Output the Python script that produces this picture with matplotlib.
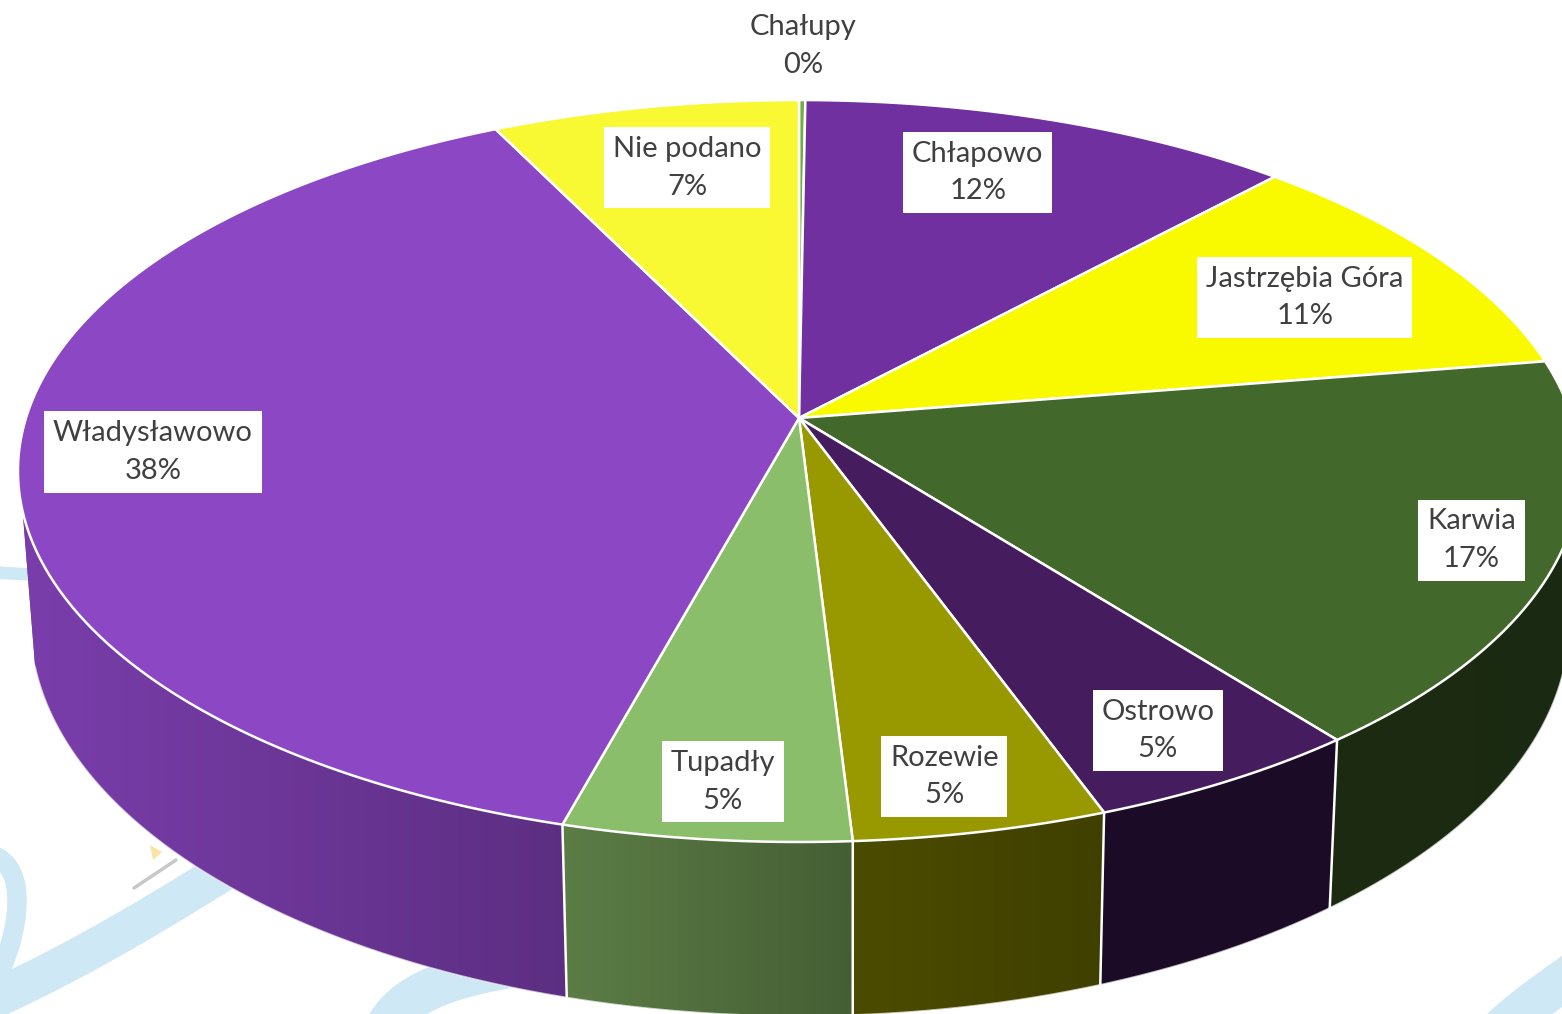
import numpy as np
import matplotlib
matplotlib.use("Agg")
import matplotlib.pyplot as plt
from matplotlib.patches import Polygon, PathPatch
from matplotlib.path import Path
from matplotlib.colors import to_rgb

# slices, clockwise from 12 o'clock (shares in %)
labels = ["Chałupy", "Chłapowo", "Jastrzębia Góra", "Karwia", "Ostrowo",
          "Rozewie", "Tupadły", "Władysławowo", "Nie podano"]
shares = [0.15, 11.75, 10.55, 16.95, 5.05, 4.6, 5.2, 38.45, 7.3]
colors = ["#6FAD47", "#7030A0", "#F9F900", "#43682B", "#451C5E",
          "#989800", "#8BBE6A", "#8C47C5", "#F8F833"]

# label placement: distance from the centre (fraction of radius)
# and a small turn away from the slice middle, in degrees
label_r = [1.2, 0.79, 0.77, 0.89, 0.87, 0.88, 0.88, 0.83, 0.78]
label_da = [0, -2.8, 1.3, -0.2, 0.7, 0.9, -0.3, -0.9, 1.3]

W, H = 1562, 1014
CX, CY = 799, 418              # pie centre on screen
A, B, K = 773, 363.4, 0.1429   # half axes and perspective strength
DEPTH = 149
VX, SHRINK = 850, 0.985
SIDE_FROM, SIDE_TO = 104.4, 255.6   # visible part of the wall
TEXT = "#404040"


def project(theta, r=1.0):
    # theta in degrees, clockwise from the top
    t = np.radians(theta)
    X = r * np.sin(t)
    Y = -r * np.cos(t)
    w = 1 - K * Y
    return CX + A * X / w, CY + B * Y / w, w


def project_bottom(theta):
    x, y, w = project(theta)
    return VX + (x - VX) * SHRINK, y + DEPTH / w


def shade(x):
    return np.interp(x, [0, 560, 850, 1100, 1562], [0.88, 0.66, 0.50, 0.42, 0.40])


fig = plt.figure(figsize=(W / 100, H / 100), dpi=100)
ax = fig.add_axes([0, 0, 1, 1])
ax.set_xlim(0, W)
ax.set_ylim(H, 0)
ax.axis("off")

# faint watermark swirls in the background
swirl = "#CFE8F5"
strokes = [
    ([(-10, 572), (5, 573), (20, 574), (40, 575)], 9),
    ([(-8, 855), (28, 866), (22, 930), (-6, 985)], 14),
    ([(-8, 1000), (90, 955), (170, 905), (250, 855)], 28),
    ([(380, 1040), (395, 1000), (430, 975), (560, 960)], 30),
    ([(1490, 1040), (1520, 1010), (1550, 990), (1585, 965)], 30),
]
for pts, lw in strokes:
    p = Path(pts, [Path.MOVETO, Path.CURVE4, Path.CURVE4, Path.CURVE4])
    ax.add_patch(PathPatch(p, fill=False, edgecolor=swirl, lw=lw,
                           capstyle="butt", zorder=0))
# small bits of the logo peeking out
ax.add_patch(Polygon([(150, 845), (162, 852), (153, 860)], closed=True,
                     fc="#FBE3A6", ec="none", zorder=0.5))
ax.plot([134, 176], [888, 860], color="#C8C8C8", lw=2.5, zorder=0.5,
        solid_capstyle="round")

edges = np.concatenate([[0], np.cumsum(shares)]) / sum(shares) * 360

# side walls, only the front part is visible
gx = np.arange(W) + 0.5
for i in range(len(labels)):
    a0 = max(edges[i], SIDE_FROM)
    a1 = min(edges[i + 1], SIDE_TO)
    if a1 <= a0:
        continue
    th = np.linspace(a0, a1, 150)
    tx, ty, _ = project(th)
    bx, by = project_bottom(th)
    xs = np.concatenate([tx, bx[::-1]])
    ys = np.concatenate([ty, by[::-1]])
    base = np.array(to_rgb(colors[i]))
    poly = Polygon(np.column_stack([xs, ys]), closed=True,
                   facecolor=base * shade(xs.mean()), edgecolor="none", zorder=2)
    ax.add_patch(poly)
    img = (base[None, None, :] * shade(gx)[None, :, None]).clip(0, 1)
    im = ax.imshow(img, extent=(0, W, H, 0), aspect="auto",
                   interpolation="bilinear", zorder=2.1)
    im.set_clip_path(poly)
    ax.plot(bx, by, color="white", lw=1.0, alpha=0.7, zorder=2.2)

# white seams between the side walls
for e in edges:
    if SIDE_FROM < e < SIDE_TO:
        x0, y0, _ = project(e)
        x1, y1 = project_bottom(e)
        ax.plot([x0, x1], [y0, y1], color="white", lw=1.8, zorder=2.3)

# top faces
for i in range(len(labels)):
    n = max(4, int(edges[i + 1] - edges[i]) * 3)
    th = np.linspace(edges[i], edges[i + 1], n)
    tx, ty, _ = project(th)
    xs = np.concatenate([[CX], tx])
    ys = np.concatenate([[CY], ty])
    ax.add_patch(Polygon(np.column_stack([xs, ys]), closed=True,
                         facecolor=colors[i], edgecolor="white", lw=1.8,
                         joinstyle="round", zorder=3))

# data labels
total = sum(shares)
for i, name in enumerate(labels):
    mid = (edges[i] + edges[i + 1]) / 2 + label_da[i]
    lx, ly, _ = project(mid, label_r[i])
    pct = round(shares[i] / total * 100)
    ax.text(lx, ly, f"{name}\n{pct}%", ha="center", va="center",
            fontsize=21, family="Lato", color=TEXT, linespacing=1.55,
            bbox=dict(boxstyle="square,pad=0.3", fc="white", ec="none"),
            zorder=5)

ax.set_xlim(0, W)
ax.set_ylim(H, 0)
fig.savefig("out.png", dpi=100)
